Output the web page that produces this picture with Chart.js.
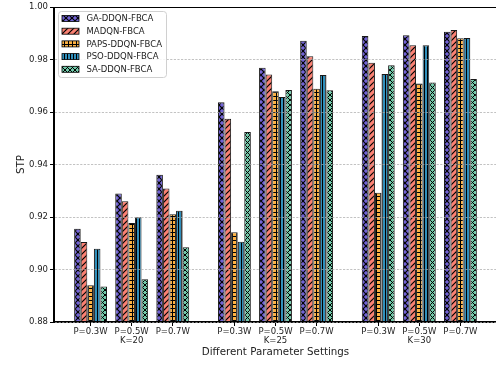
<!DOCTYPE html>
<html>
<head>
<meta charset="utf-8">
<script src="https://cdn.jsdelivr.net/npm/chart.js@4/dist/chart.umd.min.js"></script>
<style>
  html, body { margin: 0; padding: 0; background: #fff; overflow: hidden; }
  #wrap { width: 500px; height: 366px; }
</style>
</head>
<body>
<div id="wrap"><canvas id="c" width="500" height="366"></canvas></div>
<script>
// Parameter settings along the x axis
const powerLabels = ['P=0.3W', 'P=0.5W', 'P=0.7W'];
const kLabels = ['K=20', 'K=25', 'K=30'];

// STP per method, ordered K=20 (P=0.3,0.5,0.7), K=25 (...), K=30 (...)
const gaDdqn   = [0.9155, 0.9290, 0.9361, 0.9637, 0.9769, 0.9872, 0.9890, 0.9893, 0.9906];
const madqn    = [0.9105, 0.9260, 0.9309, 0.9575, 0.9743, 0.9813, 0.9788, 0.9855, 0.9913];
const papsDdqn = [0.8940, 0.9177, 0.9211, 0.9142, 0.9679, 0.9689, 0.9293, 0.9709, 0.9881];
const psoDdqn  = [0.9079, 0.9199, 0.9224, 0.9106, 0.9657, 0.9741, 0.9745, 0.9855, 0.9882];
const saDdqn   = [0.8935, 0.8963, 0.9085, 0.9524, 0.9684, 0.9683, 0.9778, 0.9713, 0.9726];

const seriesNames = ['GA-DDQN-FBCA', 'MADQN-FBCA', 'PAPS-DDQN-FBCA', 'PSO-DDQN-FBCA', 'SA-DDQN-FBCA'];
const seriesValues = [gaDdqn, madqn, papsDdqn, psoDdqn, saDdqn];

// y axis range / ticks
const yMin = 0.88, yMax = 1.00, yStep = 0.02;

// ---- layout helpers ----
const FONT = "'DejaVu Sans', sans-serif";
const clusterGap = 0.5; // extra space between K clusters
const slotOf = i => i + Math.floor(i / 3) * clusterGap;
const slots = gaDdqn.map((_, i) => slotOf(i));
const tickText = slots.map((_, i) => {
  const p = powerLabels[i % 3];
  return (i % 3 === 1) ? [p, kLabels[Math.floor(i / 3)]] : p;
});

// hatch fills
function hatch(bg, kind) {
  const sizes = { x: 6, '/': 6, '+': 4, '|': 3, xs: 5 };
  const s = sizes[kind];
  const c = document.createElement('canvas');
  c.width = c.height = s;
  const g = c.getContext('2d');
  g.fillStyle = bg;
  g.fillRect(0, 0, s, s);
  g.strokeStyle = '#000';
  const line = (x1, y1, x2, y2) => { g.beginPath(); g.moveTo(x1, y1); g.lineTo(x2, y2); g.stroke(); };
  if (kind === 'x' || kind === 'xs') {
    g.lineWidth = kind === 'x' ? 1.2 : 1.0;
    line(-1, -1, s + 1, s + 1);
    line(-1, s + 1, s + 1, -1);
  } else if (kind === '/') {
    g.lineWidth = 1.2;
    line(-1, s + 1, s + 1, -1);
    line(-2, 2, 2, -2);
    line(s - 2, s + 2, s + 2, s - 2);
  } else if (kind === '+') {
    g.lineWidth = 1;
    line(0.5, 0, 0.5, s);
    line(0, 0.5, s, 0.5);
  } else if (kind === '|') {
    g.lineWidth = 1.3;
    line(1.5, 0, 1.5, s);
  }
  return g.createPattern(c, 'repeat');
}

const fills = [
  hatch('#7263d6', 'x'),
  hatch('#fa8072', '/'),
  hatch('#fdb243', '+'),
  hatch('#39a9dc', '|'),
  hatch('#70c8a8', 'xs')
];

const datasets = seriesNames.map((name, k) => ({
  label: name,
  data: seriesValues[k].map((v, i) => ({ x: slots[i], y: v })),
  backgroundColor: fills[k],
  borderColor: 'rgba(0,0,0,0.9)',
  borderWidth: 1,
  borderSkipped: 'bottom',
  categoryPercentage: 0.8,
  barPercentage: 1.0
}));

// axes frame drawn around the plot area
const framePlugin = {
  id: 'frame',
  afterDraw(chart) {
    const { ctx, chartArea: a } = chart;
    ctx.save();
    ctx.strokeStyle = '#000';
    ctx.lineWidth = 1;
    ctx.strokeRect(Math.round(a.left) - 0.5, Math.round(a.top) + 0.5,
                   Math.round(a.right - a.left), Math.round(a.bottom - a.top) - 1);
    ctx.restore();
  }
};

// boxed legend in the upper-left corner of the plot
const boxLegend = {
  id: 'boxLegend',
  afterDraw(chart) {
    const { ctx } = chart;
    const x0 = 58.5, y0 = 11.5, w = 108, h = 66;
    ctx.save();
    ctx.beginPath();
    ctx.roundRect(x0, y0, w, h, 3);
    ctx.fillStyle = 'rgba(255,255,255,0.85)';
    ctx.fill();
    ctx.strokeStyle = '#d0d0d0';
    ctx.lineWidth = 1;
    ctx.stroke();
    ctx.font = '8.5px ' + FONT;
    ctx.textBaseline = 'middle';
    ctx.textAlign = 'left';
    chart.data.datasets.forEach((ds, i) => {
      const cy = 18.5 + i * 12.7;
      ctx.fillStyle = ds.backgroundColor;
      ctx.fillRect(62, cy - 3, 17, 6);
      ctx.strokeStyle = '#000';
      ctx.lineWidth = 0.8;
      ctx.strokeRect(62, cy - 3, 17, 6);
      ctx.fillStyle = '#222';
      ctx.fillText(ds.label, 86.5, cy + 0.5);
    });
    ctx.restore();
  }
};

new Chart(document.getElementById('c'), {
  type: 'bar',
  data: { datasets },
  options: {
    responsive: false,
    animation: false,
    events: [],
    layout: { padding: { left: 0, right: 3, top: 7, bottom: 0 } },
    plugins: { legend: { display: false }, tooltip: { enabled: false } },
    scales: {
      x: {
        type: 'linear',
        min: -0.89,
        max: 9.89,
        offset: false,
        grid: { display: true, offset: false, drawOnChartArea: false, drawTicks: true, tickLength: 4, color: '#000', tickColor: '#000', tickWidth: 1 },
        border: { display: true, color: '#000', width: 1 },
        afterBuildTicks(scale) { scale.ticks = slots.map(v => ({ value: v })); },
        afterFit(scale) { scale.height = 44; },
        ticks: {
          autoSkip: false,
          maxRotation: 0,
          minRotation: 0,
          padding: 1,
          color: '#222',
          font: { family: FONT, size: 8.5, lineHeight: 1.1 },
          callback: (value, index) => tickText[index]
        },
        title: {
          display: true,
          text: 'Different Parameter Settings',
          color: '#222',
          font: { family: FONT, size: 10.3, lineHeight: 1.2 },
          padding: { top: 0, bottom: 7.3 }
        }
      },
      y: {
        min: yMin,
        max: yMax,
        afterFit(scale) { scale.width = 54; },
        grid: { color: 'rgba(170,170,170,0.9)', lineWidth: 0.8, tickColor: '#000', tickWidth: 1, tickLength: 4, z: 1 },
        border: { display: true, color: '#000', width: 1, dash: [2.2, 1.4], z: 2 },
        ticks: {
          stepSize: yStep,
          padding: 2,
          color: '#222',
          font: { family: FONT, size: 8.5 },
          callback: v => v.toFixed(2)
        },
        title: {
          display: true,
          text: 'STP',
          color: '#222',
          font: { family: FONT, size: 10.3, lineHeight: 1.2 },
          padding: { top: 14.8, bottom: 0 }
        }
      }
    }
  },
  plugins: [framePlugin, boxLegend]
});
</script>
</body>
</html>
